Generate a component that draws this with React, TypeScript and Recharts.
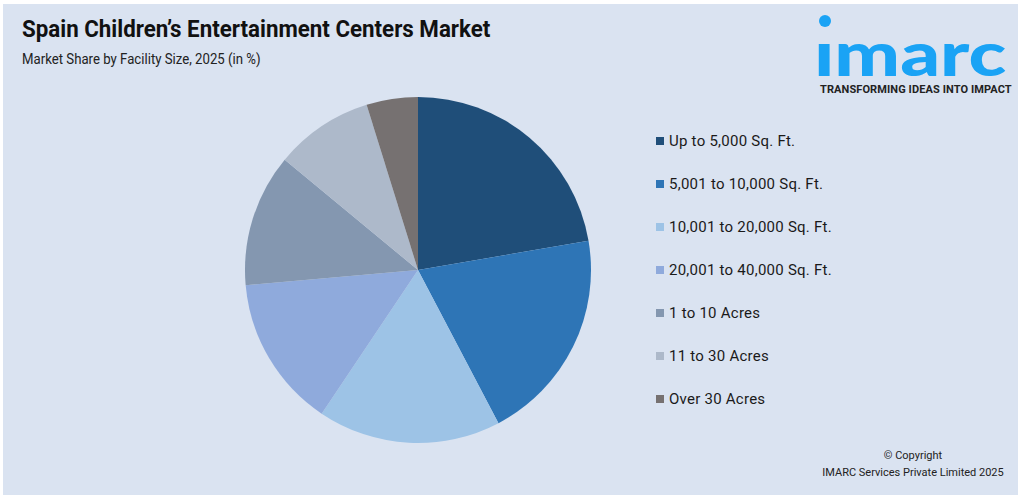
import React from "react";
import { PieChart, Pie, Cell, Legend } from "recharts";

const categories = [
  "Up to 5,000 Sq. Ft.",
  "5,001 to 10,000 Sq. Ft.",
  "10,001 to 20,000 Sq. Ft.",
  "20,001 to 40,000 Sq. Ft.",
  "1 to 10 Acres",
  "11 to 30 Acres",
  "Over 30 Acres",
];
const shares = [22.3, 20.0, 17.1, 14.2, 12.4, 9.2, 4.8];
const colors = [
  "#1f4e79",
  "#2e75b6",
  "#9dc3e6",
  "#8faadc",
  "#8497b0",
  "#adb9ca",
  "#767171",
];

const data = categories.map((name, i) => ({ name, value: shares[i] }));

function LegendList() {
  return (
    <div
      style={{
        fontFamily: "Roboto, sans-serif",
        fontSize: 15,
        letterSpacing: 0.25,
        color: "#1a1a1a",
      }}
    >
      {categories.map((c, i) => (
        <div
          key={c}
          style={{ display: "flex", alignItems: "center", height: 43 }}
        >
          <span
            style={{
              width: 8,
              height: 8,
              background: colors[i],
              marginRight: 5,
              display: "inline-block",
            }}
          />
          <span>{c}</span>
        </div>
      ))}
    </div>
  );
}

export default function App() {
  return (
    <div
      style={{
        position: "absolute",
        left: 0,
        top: 0,
        width: 1025,
        height: 498,
        background: "#ffffff",
      }}
    >
      <div
        style={{
          position: "absolute",
          left: 3,
          top: 4,
          width: 1015,
          height: 491,
          background: "#dae3f1",
        }}
      />
      <div
        style={{
          position: "absolute",
          left: 22,
          top: 15,
          fontFamily: "Roboto, sans-serif",
          fontWeight: 700,
          fontSize: 24,
          color: "#111",
          whiteSpace: "nowrap",
          transform: "scaleX(0.93)",
          transformOrigin: "left",
        }}
      >
        Spain Children’s Entertainment Centers Market
      </div>
      <div
        style={{
          position: "absolute",
          left: 22,
          top: 50,
          fontFamily: "Roboto, sans-serif",
          fontSize: 15,
          color: "#222",
          whiteSpace: "nowrap",
          transform: "scaleX(0.88)",
          transformOrigin: "left",
        }}
      >
        Market Share by Facility Size, 2025 (in %)
      </div>

      {/* logo */}
      <div
        style={{
          position: "absolute",
          left: 819,
          top: 15,
          width: 12,
          height: 12,
          borderRadius: "50%",
          background: "#1aa3f5",
        }}
      />
      <div
        style={{
          position: "absolute",
          left: 814,
          top: 28,
          fontFamily: "Lato, Roboto, sans-serif",
          fontWeight: 900,
          fontSize: 60,
          color: "#1aa3f5",
          lineHeight: "50px",
          height: 50,
          transform: "scaleX(1.3)",
          transformOrigin: "left",
        }}
      >
        ımarc
      </div>
      <div
        style={{
          position: "absolute",
          left: 820,
          top: 83,
          fontFamily: "Roboto, sans-serif",
          fontWeight: 700,
          fontSize: 11,
          color: "#222",
          whiteSpace: "nowrap",
          letterSpacing: 0.1,
        }}
      >
        TRANSFORMING IDEAS INTO IMPACT
      </div>

      <div style={{ position: "absolute", left: 0, top: 0 }}>
        <PieChart
          width={1025}
          height={498}
          margin={{ top: 0, right: 0, bottom: 0, left: 0 }}
        >
          <Pie
            data={data}
            dataKey="value"
            nameKey="name"
            cx={418}
            cy={270}
            outerRadius={173}
            startAngle={90}
            endAngle={-270}
            stroke="none"
            isAnimationActive={false}
          >
            {data.map((d, i) => (
              <Cell key={d.name} fill={colors[i]} />
            ))}
          </Pie>
          <Legend
            layout="vertical"
            content={() => <LegendList />}
            wrapperStyle={{ position: "absolute", left: 656, top: 119, width: 250 }}
          />
        </PieChart>
      </div>

      <div
        style={{
          position: "absolute",
          left: 800,
          top: 447,
          width: 226,
          textAlign: "center",
          fontFamily: "Roboto, sans-serif",
          fontSize: 11,
          color: "#222",
          lineHeight: "17px",
        }}
      >
        © Copyright
        <br />
        IMARC Services Private Limited 2025
      </div>
    </div>
  );
}
